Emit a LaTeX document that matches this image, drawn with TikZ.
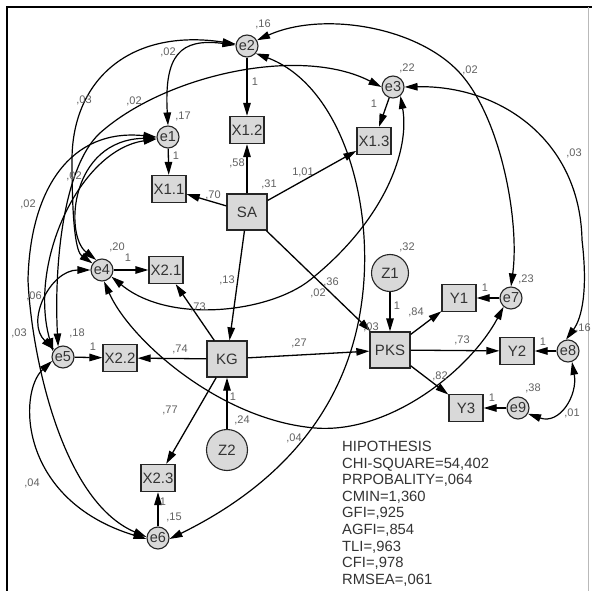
\documentclass[tikz,border=0pt]{standalone}
\usepackage{fontspec}
\setmainfont{Liberation Sans}
\usetikzlibrary{arrows.meta}
\begin{document}
\begin{tikzpicture}[x=1pt,y=-1pt,
  lat/.style={circle, draw=black!85, fill=gray!30, line width=1.1pt, minimum size=22pt, inner sep=0pt, font=\fontsize{14.5}{15}\selectfont, text=black!80},
  bigc/.style={circle, draw=black!85, fill=gray!30, line width=1.1pt, minimum size=41pt, inner sep=0pt, font=\fontsize{15}{16}\selectfont, text=black!80},
  obs/.style={rectangle, draw=black!85, fill=gray!30, line width=1.3pt, minimum width=34pt, minimum height=27pt, inner sep=0pt, font=\fontsize{15}{16}\selectfont, text=black!80},
  con/.style={obs, minimum width=40pt, minimum height=36pt},
  pth/.style={-{Triangle[length=13pt,width=7.5pt]}, line width=1.3pt, black},
  cov/.style={{Triangle[length=13pt,width=7.5pt]}-{Triangle[length=13pt,width=7.5pt]}, line width=1.2pt, black},
  lab/.style={font=\fontsize{11}{12}\selectfont, text=black!62, inner sep=0pt}
]
\useasboundingbox (0,0) rectangle (592,591);
\fill[white] (0,0) rectangle (592,591);
\draw[line width=1.5pt] (7,591) -- (7,7) -- (592,7);
\draw[gray!55, line width=0.6pt] (588,7) -- (588,591);

% nodes
\node[lat] (e1) at (168,137) {e1};
\node[lat] (e2) at (247,46) {e2};
\node[lat] (e3) at (393,87) {e3};
\node[lat] (e4) at (102,270) {e4};
\node[lat] (e5) at (63,357) {e5};
\node[lat] (e6) at (158,538) {e6};
\node[lat] (e7) at (511,298) {e7};
\node[lat] (e8) at (568,351) {e8};
\node[lat] (e9) at (518,408) {e9};
\node[obs] (x11) at (169,189) {X1.1};
\node[obs] (x12) at (247,130) {X1.2};
\node[obs] (x13) at (374,141) {X1.3};
\node[obs] (x21) at (166,270) {X2.1};
\node[obs] (x22) at (120,358) {X2.2};
\node[obs] (x23) at (158,478) {X2.3};
\node[obs] (y1) at (459,298) {Y1};
\node[obs] (y2) at (517,351) {Y2};
\node[obs] (y3) at (466,408) {Y3};
\node[con] (sa) at (247,212) {SA};
\node[con] (kg) at (227,359) {KG};
\node[con] (pks) at (390,350) {PKS};
\node[bigc, minimum size=37pt] (z1) at (390,273) {Z1};
\node[bigc] (z2) at (227,450) {Z2};

% regression paths
\draw[pth] (e1) -- (x11);
\draw[pth] (e2) -- (x12);
\draw[pth] (e3) -- (x13);
\draw[pth] (sa) -- (x12);
\draw[pth] (sa) -- (x11);
\draw[pth] (sa) -- (x13);
\draw[pth] (sa) -- (kg);
\draw[pth] (sa) -- (pks);
\draw[pth] (kg) -- (x21);
\draw[pth] (kg) -- (x22);
\draw[pth] (kg) -- (x23);
\draw[pth] (kg) -- (pks);
\draw[pth] (z2) -- (kg);
\draw[pth] (z1) -- (pks);
\draw[pth] (pks) -- (y1);
\draw[pth] (pks) -- (y2);
\draw[pth] (pks) -- (y3);
\draw[pth] (e4) -- (x21);
\draw[pth] (e5) -- (x22);
\draw[pth] (e6) -- (x23);
\draw[pth] (e7) -- (y1);
\draw[pth] (e8) -- (y2);
\draw[pth] (e9) -- (y3);

% covariances
\draw[cov] (e2.175) .. controls (180,38) and (164,55) .. (e1.north);
\draw[cov] (e2.170) .. controls (130,28) and (72,80) .. (72,160) .. controls (72,225) and (76,252) .. (e4.145);
\draw[cov] (e3.180) .. controls (300,45) and (165,75) .. (100,133) .. controls (62,168) and (54,270) .. (e5.115);
\draw[cov] (e1.185) .. controls (70,140) and (64,235) .. (e4.120);
\draw[cov] (e1.190) .. controls (80,150) and (28,262) .. (e5.150);
\draw[cov] (e1.180) .. controls (70,128) and (30,190) .. (28,280) .. controls (31,350) and (60,500) .. (e6.175);
\draw[cov] (e4.west) .. controls (50,270) and (25,322) .. (e5.140);
\draw[cov] (e5.200) .. controls (18,392) and (18,500) .. (e6.185);
\draw[cov] (e3.-50) .. controls (410,150) and (385,220) .. (310,280) .. controls (270,312) and (170,325) .. (e4.-35);
\draw[cov] (e4.-80) .. controls (130,340) and (220,420) .. (315,428) .. controls (390,434) and (470,370) .. (e7.230);
\draw[cov] (e2.-40) .. controls (340,85) and (375,200) .. (362,300) .. controls (352,378) and (310,470) .. (e6.-5);
\draw[cov] (e2.30) .. controls (320,12) and (410,25) .. (455,68) .. controls (500,111) and (520,220) .. (e7.north);
\draw[cov] (e3.east) .. controls (500,85) and (580,140) .. (582,240) .. controls (588,290) and (582,318) .. (e8.100);
\draw[cov] (e9.-30) .. controls (560,425) and (578,395) .. (e8.-70);

% variance labels
\node[lab] (ve2) at (263,24) {,16};
\node[lab] (ve1) at (183,116) {,17};
\node[lab] (ve3) at (407,68) {,22};
\node[lab] (vsa) at (269,184) {,31};
\node[lab] (ve4) at (117,247) {,20};
\node[lab] (ve5) at (77,333) {,18};
\node[lab] (ve6) at (174,517) {,15};
\node[lab] (vz2) at (242,420) {,24};
\node[lab] (vz1) at (407,247) {,32};
\node[lab] (vpks) at (371,327) {,03};
\node[lab] (ve7) at (526,279) {,23};
\node[lab] (ve8) at (583,328) {,16};
\node[lab] (ve9) at (533,388) {,38};

% path labels
\node[lab] (p1) at (255,82) {1};
\node[lab] (p2) at (176,156) {1};
\node[lab] (p3) at (374,104) {1};
\node[lab] (p4) at (237,163) {,58};
\node[lab] (p5) at (213,195) {,70};
\node[lab] (p6) at (303,172) {1,01};
\node[lab] (p7) at (227,280) {,13};
\node[lab] (p8) at (331,282) {,36};
\node[lab] (p9) at (198,307) {,73};
\node[lab] (p10) at (180,349) {,74};
\node[lab] (p11) at (299,343) {,27};
\node[lab] (p12) at (170,410) {,77};
\node[lab] (p13) at (233,397) {1};
\node[lab] (p14) at (397,306) {1};
\node[lab] (p15) at (416,312) {,84};
\node[lab] (p16) at (462,340) {,73};
\node[lab] (p17) at (440,376) {,82};
\node[lab] (p18) at (128,258) {1};
\node[lab] (p19) at (93,347) {1};
\node[lab] (p20) at (163,502) {1};
\node[lab] (p21) at (485,288) {1};
\node[lab] (p22) at (543,342) {1};
\node[lab] (p23) at (492,398) {1};

% covariance labels
\node[lab] (c1) at (168,52) {,02};
\node[lab] (c2) at (84,100) {,03};
\node[lab] (c3) at (134,101) {,02};
\node[lab] (c4) at (74,176) {,02};
\node[lab] (c5) at (28,204) {,02};
\node[lab] (c6) at (34,296) {,06};
\node[lab] (c7) at (19,333) {,03};
\node[lab] (c8) at (32,483) {,04};
\node[lab] (c9) at (318,293) {,02};
\node[lab] (c10) at (294,438) {,04};
\node[lab] (c11) at (470,70) {,02};
\node[lab] (c12) at (574,153) {,03};
\node[lab] (c13) at (572,413) {,01};

% fit statistics
\node[anchor=north west, inner sep=0pt, align=left, text=black!80,
      font=\fontsize{14.8}{16.6}\selectfont] (stats) at (342,441)
  {HIPOTHESIS\\CHI-SQUARE=54,402\\PRPOBALITY=,064\\CMIN=1,360\\GFI=,925\\AGFI=,854\\TLI=,963\\CFI=,978\\RMSEA=,061};
\end{tikzpicture}
\end{document}
